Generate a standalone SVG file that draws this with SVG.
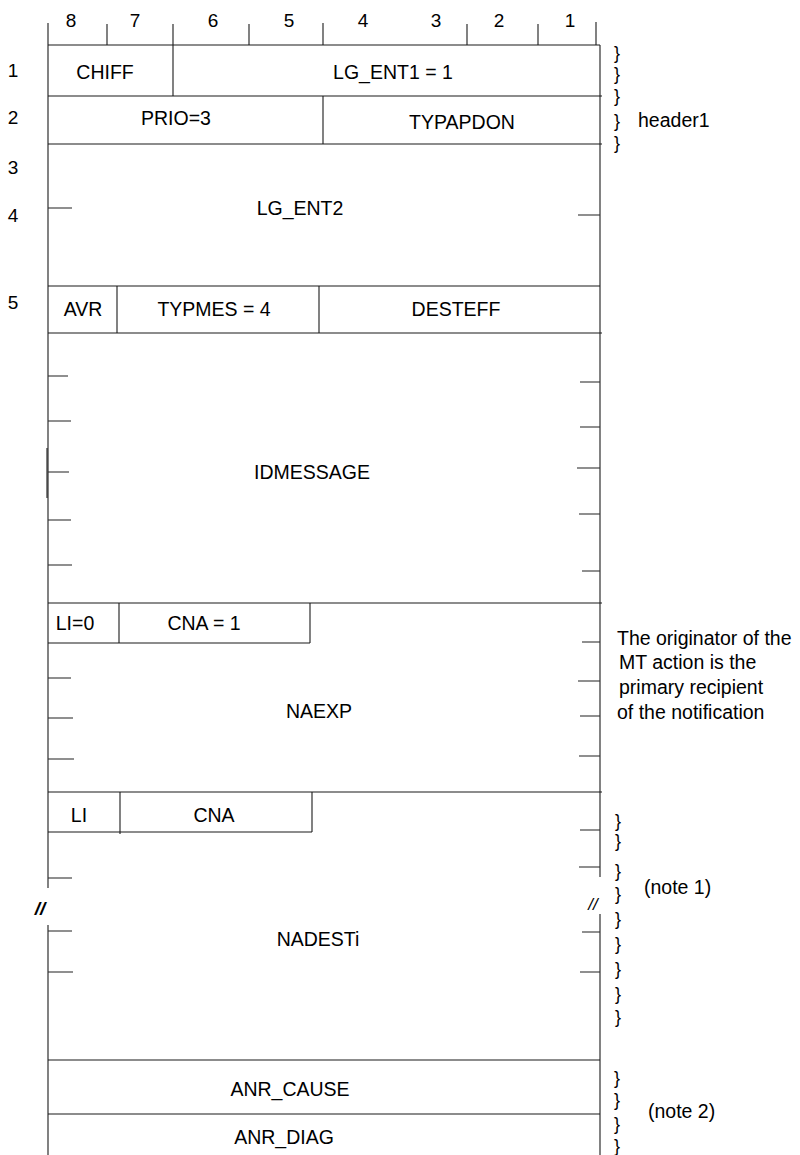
<svg xmlns="http://www.w3.org/2000/svg" width="800" height="1155" viewBox="0 0 800 1155">
<style>
  .ln { stroke: #1a1a1a; stroke-width: 1.1; fill: none; }
  .tk { stroke: #333; stroke-width: 1.1; }
  text { font-family: "Liberation Sans", Arial, sans-serif; fill: #000; }
  .f { font-size: 19.5px; text-anchor: middle; }
  .n { font-size: 19px; text-anchor: middle; }
  .a { font-size: 19.5px; }
  .b { font-size: 18px; text-anchor: middle; }
</style>
<rect width="800" height="1155" fill="#fff"/>

<g id="ruler">
  <line class="ln" x1="48" y1="23" x2="48" y2="45"/>
  <line class="ln" x1="107" y1="24" x2="107" y2="45"/>
  <line class="ln" x1="173" y1="24" x2="173" y2="45"/>
  <line class="ln" x1="249" y1="24" x2="249" y2="45"/>
  <line class="ln" x1="323" y1="23" x2="323" y2="45"/>
  <line class="ln" x1="467" y1="24" x2="467" y2="45"/>
  <line class="ln" x1="538" y1="24" x2="538" y2="45"/>
  <line class="ln" x1="596" y1="22" x2="596" y2="45"/>
  <text class="n" x="71" y="27">8</text>
  <text class="n" x="135" y="27">7</text>
  <text class="n" x="213" y="27">6</text>
  <text class="n" x="289" y="27">5</text>
  <text class="n" x="363" y="27">4</text>
  <text class="n" x="436" y="27">3</text>
  <text class="n" x="499" y="27">2</text>
  <text class="n" x="570" y="27">1</text>
</g>

<g id="octets">
  <text class="n" x="13" y="77">1</text>
  <text class="n" x="13" y="124">2</text>
  <text class="n" x="13" y="174">3</text>
  <text class="n" x="13" y="222">4</text>
  <text class="n" x="13" y="309">5</text>
</g>

<g id="frame">
  <line class="ln" x1="48" y1="45" x2="48" y2="888"/>
  <line class="ln" x1="48" y1="925" x2="48" y2="1155"/>
  <line class="ln" x1="47" y1="448" x2="47" y2="498"/>
  <line class="ln" x1="600" y1="45" x2="600" y2="877"/>
  <line class="ln" x1="600" y1="914" x2="600" y2="1155"/>
  <line class="ln" x1="48" y1="45" x2="600" y2="45"/>
</g>

<g id="CHIFF">
  <line class="ln" x1="48" y1="96" x2="602" y2="96"/>
  <line class="ln" x1="173" y1="45" x2="173" y2="96"/>
  <text class="f" x="105" y="79">CHIFF</text>
</g>
<g id="LG_ENT1">
  <text class="f" x="393" y="79">LG_ENT1 = 1</text>
</g>
<g id="PRIO">
  <line class="ln" x1="48" y1="144" x2="602" y2="144"/>
  <line class="ln" x1="323" y1="96" x2="323" y2="144"/>
  <text class="f" x="176" y="125">PRIO=3</text>
</g>
<g id="TYPAPDON">
  <text class="f" x="462" y="129">TYPAPDON</text>
</g>
<g id="LG_ENT2">
  <line class="ln" x1="48" y1="286" x2="600" y2="286"/>
  <line class="tk" x1="48" y1="208" x2="72" y2="208"/>
  <line class="tk" x1="578" y1="215" x2="600" y2="215"/>
  <text class="f" x="300" y="215">LG_ENT2</text>
</g>
<g id="AVR">
  <line class="ln" x1="48" y1="333" x2="602" y2="333"/>
  <line class="ln" x1="117" y1="286" x2="117" y2="333"/>
  <text class="f" x="83" y="316">AVR</text>
</g>
<g id="TYPMES">
  <line class="ln" x1="319" y1="286" x2="319" y2="333"/>
  <text class="f" x="214" y="316">TYPMES = 4</text>
</g>
<g id="DESTEFF">
  <text class="f" x="456" y="316">DESTEFF</text>
</g>
<g id="IDMESSAGE">
  <line class="ln" x1="48" y1="603" x2="602" y2="603"/>
  <line class="tk" x1="48" y1="376" x2="68" y2="376"/>
  <line class="tk" x1="48" y1="421" x2="71" y2="421"/>
  <line class="tk" x1="48" y1="472" x2="69" y2="472"/>
  <line class="tk" x1="48" y1="520" x2="71" y2="520"/>
  <line class="tk" x1="48" y1="565" x2="72" y2="565"/>
  <line class="tk" x1="580" y1="382" x2="600" y2="382"/>
  <line class="tk" x1="580" y1="427" x2="600" y2="427"/>
  <line class="tk" x1="577" y1="468" x2="600" y2="468"/>
  <line class="tk" x1="579" y1="514" x2="600" y2="514"/>
  <line class="tk" x1="582" y1="571" x2="600" y2="571"/>
  <text class="f" x="312" y="479">IDMESSAGE</text>
</g>
<g id="NAEXP">
  <line class="ln" x1="48" y1="792" x2="602" y2="792"/>
  <line class="ln" x1="48" y1="643" x2="310" y2="643"/>
  <line class="ln" x1="119" y1="603" x2="119" y2="643"/>
  <line class="ln" x1="310" y1="603" x2="310" y2="643"/>
  <text class="f" x="75" y="630">LI=0</text>
  <text class="f" x="204" y="630">CNA = 1</text>
  <line class="tk" x1="48" y1="678" x2="71" y2="678"/>
  <line class="tk" x1="48" y1="718" x2="73" y2="718"/>
  <line class="tk" x1="48" y1="759" x2="74" y2="759"/>
  <line class="tk" x1="582" y1="642" x2="600" y2="642"/>
  <line class="tk" x1="578" y1="681" x2="600" y2="681"/>
  <line class="tk" x1="580" y1="716" x2="600" y2="716"/>
  <line class="tk" x1="579" y1="756" x2="600" y2="756"/>
  <text class="f" x="319" y="718">NAEXP</text>
</g>
<g id="NADESTi">
  <line class="ln" x1="48" y1="1060" x2="600" y2="1060"/>
  <line class="ln" x1="48" y1="832" x2="312" y2="832"/>
  <line class="ln" x1="120" y1="792" x2="120" y2="834"/>
  <line class="ln" x1="312" y1="792" x2="312" y2="832"/>
  <text class="f" x="79" y="822">LI</text>
  <text class="f" x="214" y="822">CNA</text>
  <line class="tk" x1="48" y1="878" x2="72" y2="878"/>
  <line class="tk" x1="48" y1="931" x2="72" y2="931"/>
  <line class="tk" x1="48" y1="972" x2="73" y2="972"/>
  <line class="tk" x1="580" y1="830" x2="600" y2="830"/>
  <line class="tk" x1="579" y1="867" x2="600" y2="867"/>
  <line class="tk" x1="582" y1="932" x2="600" y2="932"/>
  <line class="tk" x1="580" y1="972" x2="600" y2="972"/>
  <text x="40" y="915" font-size="19px" font-weight="bold" font-style="italic" text-anchor="middle">//</text>
  <text x="593" y="910" font-size="17px" font-style="italic" text-anchor="middle">//</text>
  <text class="f" x="318" y="946">NADESTi</text>
</g>
<g id="ANR_CAUSE">
  <line class="ln" x1="48" y1="1114" x2="600" y2="1114"/>
  <text class="f" x="290" y="1096">ANR_CAUSE</text>
</g>
<g id="ANR_DIAG">
  <text class="f" x="284" y="1144">ANR_DIAG</text>
</g>

<g id="header1">
  <text class="b" x="617" y="59">}</text>
  <text class="b" x="617" y="80">}</text>
  <text class="b" x="617" y="102">}</text>
  <text class="b" x="617" y="127">}</text>
  <text class="b" x="617" y="149">}</text>
  <text class="a" x="638" y="127">header1</text>
</g>
<g id="note-originator">
  <text class="a" x="617" y="645">The originator of the</text>
  <text class="a" x="619" y="669">MT action is the</text>
  <text class="a" x="619" y="694">primary recipient</text>
  <text class="a" x="617" y="719">of the notification</text>
</g>
<g id="note1">
  <text class="b" x="618" y="827">}</text>
  <text class="b" x="618" y="847">}</text>
  <text class="b" x="618" y="877">}</text>
  <text class="b" x="618" y="900">}</text>
  <text class="b" x="618" y="925">}</text>
  <text class="b" x="618" y="950">}</text>
  <text class="b" x="618" y="975">}</text>
  <text class="b" x="618" y="1000">}</text>
  <text class="b" x="618" y="1023">}</text>
  <text class="a" x="644" y="894">(note 1)</text>
</g>
<g id="note2">
  <text class="b" x="617" y="1084">}</text>
  <text class="b" x="617" y="1106">}</text>
  <text class="b" x="617" y="1130">}</text>
  <text class="b" x="617" y="1152">}</text>
  <text class="a" x="648" y="1118">(note 2)</text>
</g>
</svg>
